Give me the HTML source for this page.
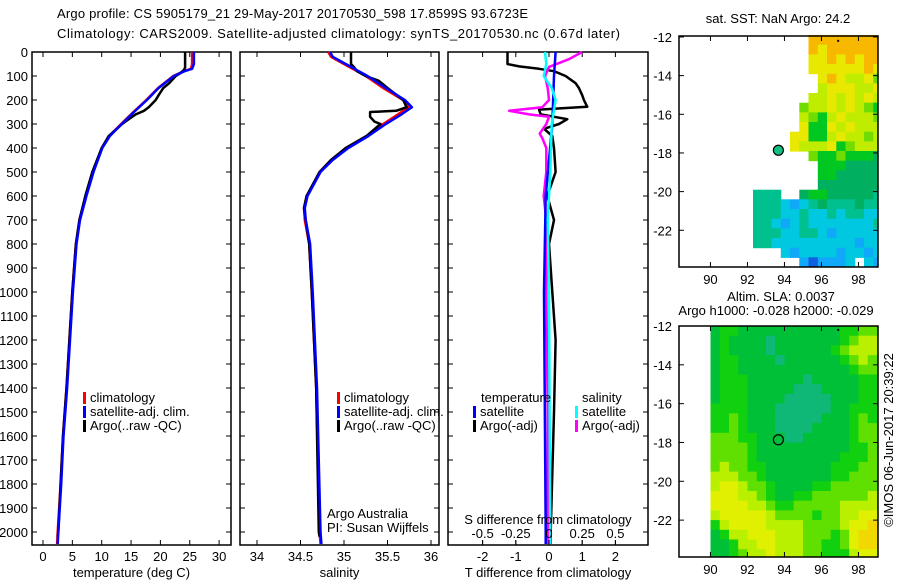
<!DOCTYPE html>
<html><head><meta charset="utf-8"><style>
body{margin:0;background:#fff;}
svg{display:block;font-family:"Liberation Sans",sans-serif;}
text{font-size:13px;fill:#000;}
</style></head><body>
<svg id="c" width="900" height="580" viewBox="0 0 900 580">
<text x="57" y="18" textLength="471">Argo profile: CS 5905179_21 29-May-2017 20170530_598 17.8599S 93.6723E</text>
<text x="57" y="38" textLength="563">Climatology: CARS2009. Satellite-adjusted climatology: synTS_20170530.nc (0.67d later)</text>
</svg>
<script>
// ---- data ----
const depthTicks=[0,100,200,300,400,500,600,700,800,900,1000,1100,1200,1300,1400,1500,1600,1700,1800,1900,2000];
const tTicks=[0,5,10,15,20,25,30];
const sTicks=[34,34.5,35,35.5,36];
const sTickLabels=["34","34.5","35","35.5","36"];
const dTTicks=[-2,-1,0,1,2];
const dSTickLabels=["-0.5","-0.25","0","0.25","0.5"];
const dSTicks=[-0.5,-0.25,0,0.25,0.5];

const tempDepth=[0,50,70,80,100,150,200,250,300,350,400,500,600,700,800,900,1000,1200,1400,1600,1800,2000,2050];
const tempClim=[25.4,25.4,25.2,24.0,22.2,19.6,17.6,15.4,13.3,11.3,10.0,8.5,7.3,6.2,5.6,5.3,5.0,4.5,4.0,3.4,3.0,2.5,2.4];
const tempSat=[25.7,25.7,25.4,24.1,22.3,19.7,17.7,15.5,13.4,11.4,10.1,8.6,7.4,6.3,5.7,5.4,5.1,4.6,4.1,3.5,3.1,2.6,2.5];
const argoTDepth=[0,65,75,90,100,130,150,180,200,230,245,260,280,300,350,400,500,600,700,800,1000,1200,1400,1600,1800,2000,2020];
const argoT=[24.2,24.2,24.0,23.3,22.6,21.5,20.5,19.7,19.2,18.0,17.2,15.8,14.6,13.5,11.2,10.0,8.4,7.2,6.2,5.6,5.0,4.5,4.0,3.4,3.0,2.6,2.5];

const salDepth=[0,20,40,60,80,100,150,200,230,260,300,350,400,450,500,600,650,700,800,1000,1400,2000,2050];
const salClim=[34.82,34.85,34.95,35.05,35.15,35.25,35.45,35.68,35.74,35.62,35.45,35.26,35.03,34.85,34.72,34.57,34.54,34.55,34.60,34.63,34.68,34.72,34.73];
const salSat=[34.84,34.87,34.97,35.07,35.17,35.27,35.48,35.70,35.78,35.66,35.48,35.28,35.05,34.87,34.73,34.58,34.55,34.56,34.61,34.64,34.69,34.73,34.74];
const argoSDepth=[0,50,65,80,100,120,150,200,230,245,250,270,290,300,350,400,450,500,600,650,700,800,1000,1400,2000,2020];
const argoS=[35.08,35.08,35.12,35.15,35.25,35.40,35.50,35.68,35.72,35.60,35.30,35.30,35.35,35.42,35.26,35.02,34.85,34.72,34.57,34.54,34.56,34.60,34.63,34.68,34.71,34.72];

const dTDepth=[0,50,60,70,80,100,130,150,180,200,228,240,260,280,300,320,350,400,500,600,700,800,1000,1200,1500,2000,2050];
const dTArgo=[-1.25,-1.25,-0.9,-0.3,0.15,0.5,0.8,0.9,1.0,1.05,1.15,-0.3,-0.25,0.55,0.3,-0.15,0.1,0.15,0.2,-0.05,0.15,0.0,0.1,0.2,0.15,0.05,0.05];
const dTSatDepth=[0,100,300,600,1000,2000,2050];
const dTSat=[0.2,0.15,0.1,-0.1,-0.15,-0.1,-0.1];
const dSArgoDepth=[0,30,62,100,150,200,230,245,260,270,300,340,360,400,500,600,700,1000,1500,2050];
const dSArgo=[0.25,0.15,0.0,-0.03,-0.01,0.0,-0.05,-0.3,-0.15,0.0,-0.02,-0.07,-0.05,-0.02,-0.02,-0.04,-0.02,-0.02,-0.01,-0.01];
const dSSatDepth=[0,50,100,150,200,300,500,700,1000,2050];
const dSSat=[-0.03,-0.02,-0.04,0.02,0.05,0.02,0.01,-0.01,0.0,0.01];

// SST map rows (lat -11.9 downward in 0.5 deg, cols from lon 88.3 in 0.5 deg), '.' = no data
const sstRows=[
"..............99999999","..............98999999","..............88989899","..............88888898",
"...............8987786","...............7888778","..............77878787",".............677878765",
".............765787776",".............855878777","............8855787767","............8777856777",
"..............65565554","...............5554444","...............5544444","...............4444444",
"........333..455444443","........33321234333433","........33322322323322","........33212322222223",
"........33322332122222","........33222222222122","...........21222212212",".............101112.21"];
// SLA map rows (lat -12 downward, cols from lon 90)
const slaRows=[
"455444444444445566","454444344444445677","454444344444456777","455444434444445676",
"455444444444444566","455544444434444455","455544444333444455","455544443333344455",
"555544433333344555","556544433333444565","556544433334444566","666554443344444566",
"666654444444444556","666654444444445556","676655444444455566","777665444444455666",
"788766544445566666","888776544556666667","888877655666667777","788888766665667788",
"578888777766667889","457788877766656899","445778877766556899","445677877766555788"];
const sstColors=["#1060e0","#10a8f8","#00c8e0","#00c090","#00b060","#00c820","#70dc00","#c0ec00","#e8e800","#f8b800"];
const slaColors=["#00a060","#00a868","#00b070","#10b878","#00c038","#10d010","#60e000","#b8f000","#e0f000","#f0d800"];
const argoLon=93.6723, argoLat=-17.8599;

// ---- drawing ----
const NS="http://www.w3.org/2000/svg";
const svg=document.getElementById('c');
function el(tag,attrs,parent){const e=document.createElementNS(NS,tag);for(const k in attrs)e.setAttribute(k,attrs[k]);(parent||svg).appendChild(e);return e;}
const TOP=52, BOT=545;
const yD=d=>TOP+0.24*d;

function panel(name,x0,x1,xf,xt,xlabs,xlabel,yLabels){
  const g=el('g',{});
  
  
  const r=el('rect',{x:x0,y:TOP,width:x1-x0,height:BOT-TOP,fill:'none',stroke:'#000','stroke-width':1.5},g);
  
  
  depthTicks.forEach(d=>{const y=yD(d);
    el('line',{x1:x0,x2:x0+5,y1:y,y2:y,stroke:'#000'},g);
    el('line',{x1:x1-5,x2:x1,y1:y,y2:y,stroke:'#000'},g);
    if(yLabels){const t=el('text',{x:x0-4,y:y+5,'text-anchor':'end'},g);t.textContent=d;
      
      }
  });
  xt.forEach((v,i)=>{const x=xf(v);
    el('line',{x1:x,x2:x,y1:TOP,y2:TOP+5,stroke:'#000'},g);
    el('line',{x1:x,x2:x,y1:BOT-5,y2:BOT,stroke:'#000'},g);
    const t=el('text',{x:x,y:BOT+16,'text-anchor':'middle'},g);t.textContent=xlabs[i];
    
    
  });
  const t=el('text',{x:(x0+x1)/2,y:577,'text-anchor':'middle'},g);t.textContent=xlabel;
  
  
  return g;
}
function line(g,xs,ds,xf,color,w,name){
  const p=xs.map((v,i)=>xf(v).toFixed(1)+','+yD(ds[i]).toFixed(1)).join(' ');
  const e=el('polyline',{points:p,fill:'none',stroke:color,'stroke-width':w,'stroke-linejoin':'round'},g);
  
  
}
function legend(g,x,y,color,label,name){
  el('rect',{x:x,y:y-10,width:3,height:12,fill:color},g);
  const t=el('text',{x:x+7,y:y},g);t.textContent=label;
  
  
}

// panel 1 temperature
const xT=v=>43+5.87*v;
const g1=panel('temperature-panel',32,231,xT,tTicks,tTicks.map(String),'temperature (deg C)',true);
line(g1,tempClim,tempDepth,xT,'#f00',2.5,'temp-climatology-line');
line(g1,argoT,argoTDepth,xT,'#000',2.5,'temp-argo-line');
line(g1,tempSat,tempDepth,xT,'#00f',2.5,'temp-satellite-line');
legend(g1,83,402,'#f00','climatology','legend-climatology');
legend(g1,83,416,'#00f','satellite-adj. clim.','legend-satellite-adj');
legend(g1,83,430,'#000','Argo(..raw -QC)','legend-argo');

// panel 2 salinity
const xS=v=>257+87*(v-34);
const g2=panel('salinity-panel',240,439,xS,sTicks,sTickLabels,'salinity',false);
line(g2,salClim,salDepth,xS,'#f00',2.5,'sal-climatology-line');
line(g2,argoS,argoSDepth,xS,'#000',2.5,'sal-argo-line');
line(g2,salSat,salDepth,xS,'#00f',2.5,'sal-satellite-line');
legend(g2,337,402,'#f00','climatology','legend-climatology');
legend(g2,337,416,'#00f','satellite-adj. clim.','legend-satellite-adj');
legend(g2,337,430,'#000','Argo(..raw -QC)','legend-argo');
let t=el('text',{x:327,y:518},g2);t.textContent='Argo Australia';


t=el('text',{x:327,y:532},g2);t.textContent='PI: Susan Wijffels';



// panel 3 differences
const xDT=v=>549+33.2*v;
const xDS=v=>549+132.8*v;
const g3=panel('difference-panel',448,648,xDT,dTTicks,dTTicks.map(String),'T difference from climatology',false);
line(g3,dTArgo,dTDepth,xDT,'#000',2.5,'t-diff-argo-line');
line(g3,dSArgo,dSArgoDepth,xDS,'#f0f',2.5,'s-diff-argo-line');
line(g3,dTSat,dTSatDepth,xDT,'#00f',2.5,'t-diff-satellite-line');
line(g3,dSSat,dSSatDepth,xDS,'#0ff',2.5,'s-diff-satellite-line');
dSTicks.forEach((v,i)=>{const x=xDS(v);el('line',{x1:x,x2:x,y1:540,y2:545,stroke:'#000'},g3);
  const tt=el('text',{x:x,y:538,'text-anchor':'middle','font-size':'12'},g3);tt.textContent=dSTickLabels[i];
  
  });
t=el('text',{x:548,y:524,'text-anchor':'middle','font-size':'12'},g3);t.textContent='S difference from climatology';


t=el('text',{x:481,y:402},g3);t.textContent='temperature';


t=el('text',{x:582,y:402},g3);t.textContent='salinity';


legend(g3,473,416,'#00f','satellite','legend-t-satellite');
legend(g3,473,430,'#000','Argo(-adj)','legend-t-argo');
legend(g3,575,416,'#0ff','satellite','legend-s-satellite');
legend(g3,575,430,'#f0f','Argo(-adj)','legend-s-argo');

// maps
function map(name,fx0,fy0,fy1,rows,colors,lon0,lat0,filledCircle,latTop){
  const fx1=878;
  const xL=lon=>fx0+(lon-88.3)*18.5;
  const yL=lat=>fy0+(latTop-lat)*(fy1-fy0)/(latTop+23.9);
  const g=el('g',{});
  
  
  rows.forEach((row,j)=>{[...row].forEach((ch,i)=>{ if(ch==='.')return;
    const la=lon0+0.5*i, lb=Math.min(la+0.5,99.05);
    const ta=lat0-0.5*j, tb=Math.max(ta-0.5,-23.9);
    const c=el('rect',{x:xL(la).toFixed(1),y:yL(ta).toFixed(1),width:(xL(lb)-xL(la)+0.5).toFixed(1),height:(yL(tb)-yL(ta)+0.5).toFixed(1),fill:colors[+ch]},g);
    
    
  });});
  el('rect',{x:fx0,y:fy0,width:fx1-fx0,height:fy1-fy0,fill:'none',stroke:'#000','stroke-width':1.5},g);
  [90,92,94,96,98].forEach(lo=>{const x=xL(lo);
    el('line',{x1:x,x2:x,y1:fy0,y2:fy0+5,stroke:'#000'},g);
    el('line',{x1:x,x2:x,y1:fy1-5,y2:fy1,stroke:'#000'},g);
    const tt=el('text',{x:x,y:fy1+17,'text-anchor':'middle'},g);tt.textContent=lo;
    
    });
  [-12,-14,-16,-18,-20,-22].forEach(la=>{const y=yL(la);
    el('line',{x1:fx0,x2:fx0+5,y1:y,y2:y,stroke:'#000'},g);
    el('line',{x1:fx1-5,x2:fx1,y1:y,y2:y,stroke:'#000'},g);
    const tt=el('text',{x:fx0-7,y:y+5,'text-anchor':'end'},g);tt.textContent=la;
    
    });
  el('rect',{x:xL(96.85),y:yL(-12.2)-1,width:2,height:2,fill:'#000'},g);
  const m=el('circle',{cx:xL(argoLon),cy:yL(argoLat),r:5,fill:filledCircle?'#10c080':'none',stroke:'#000','stroke-width':1.2},g);
  
  
}
map('sst-map',679,36,267,sstRows,sstColors,88.3,-11.9,true,-11.95);
map('sla-map',679,326,557,slaRows,slaColors,90,-12,false,-12);
t=el('text',{x:778,y:23,'text-anchor':'middle'});t.textContent='sat. SST: NaN Argo: 24.2';


t=el('text',{x:781,y:301,'text-anchor':'middle'});t.textContent='Altim. SLA: 0.0037';


t=el('text',{x:776,y:315,'text-anchor':'middle'});t.textContent='Argo h1000: -0.028 h2000: -0.029';


t=el('text',{x:0,y:0,'text-anchor':'middle',transform:'translate(893,440) rotate(-90)'});t.textContent='©IMOS 06-Jun-2017 20:39:22';


</script>
</body></html>
